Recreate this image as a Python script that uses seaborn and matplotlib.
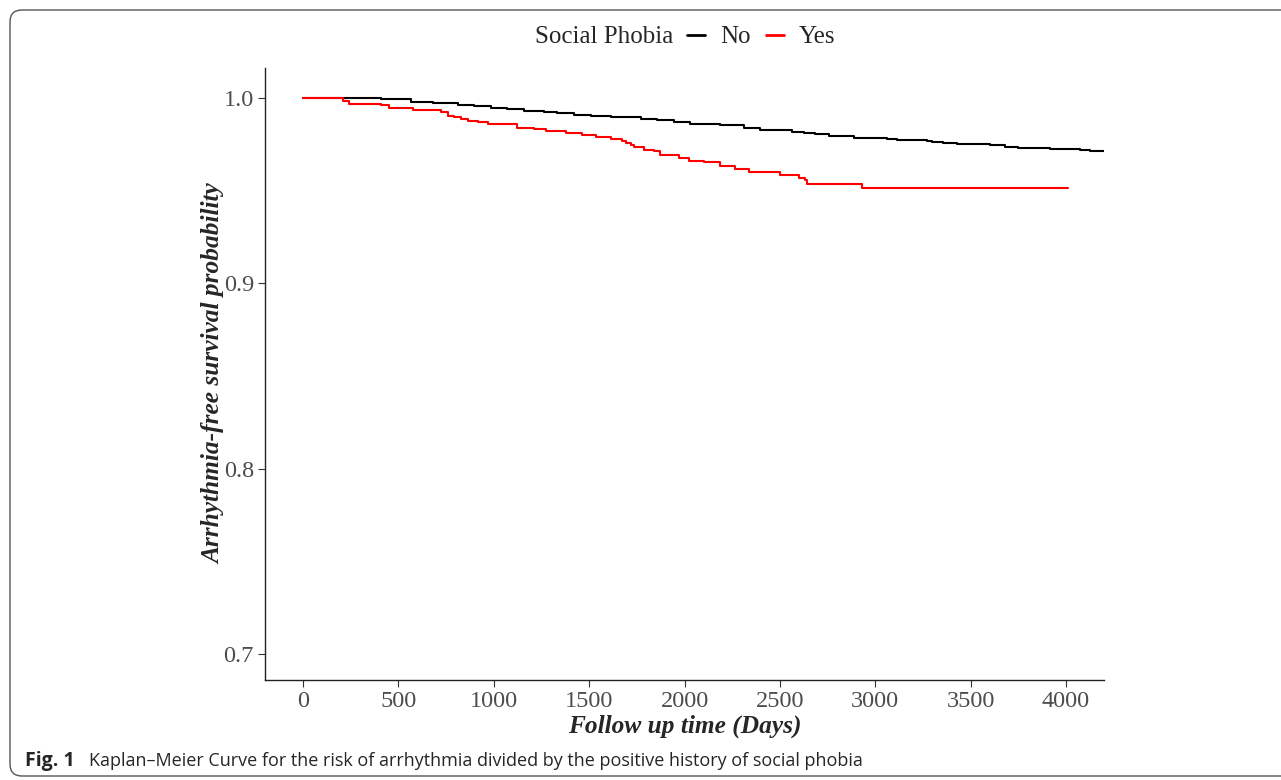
import matplotlib.pyplot as plt
import pandas as pd
import seaborn as sns
from matplotlib.patches import FancyBboxPatch

# Kaplan-Meier step points (time in days, survival)
NO_TIME = [0, 408, 565, 679, 810, 897, 984, 1071, 1159, 1263, 1333, 1421, 1508,
           1613, 1770, 1857, 1944, 2031, 2188, 2311, 2398, 2564, 2625, 2686,
           2756, 2887, 3062, 3114, 3271, 3297, 3358, 3428, 3602, 3681, 3751,
           3916, 4073, 4126, 4300]
NO_SURV = [1.0, 0.9993, 0.9978, 0.9971, 0.9962, 0.9954, 0.9946, 0.9939, 0.9930,
           0.9921, 0.9916, 0.9908, 0.9903, 0.9894, 0.9887, 0.9880, 0.9867,
           0.9858, 0.9851, 0.9838, 0.9827, 0.9817, 0.9810, 0.9803, 0.9795,
           0.9784, 0.9777, 0.9772, 0.9767, 0.9761, 0.9756, 0.9752, 0.9745,
           0.9736, 0.9729, 0.9722, 0.9716, 0.9713, 0.9713]

YES_TIME = [0, 208, 243, 408, 452, 574, 723, 758, 792, 827, 862, 915, 967, 1124,
            1211, 1272, 1377, 1464, 1534, 1613, 1674, 1691, 1717, 1735, 1787,
            1839, 1874, 1970, 2022, 2101, 2188, 2267, 2337, 2503, 2599, 2634,
            2643, 2931, 4012]
YES_SURV = [1.0, 0.9984, 0.9968, 0.9960, 0.9944, 0.9934, 0.9923, 0.9903, 0.9894,
            0.9885, 0.9872, 0.9867, 0.9856, 0.9838, 0.9829, 0.9819, 0.9810,
            0.9799, 0.9788, 0.9775, 0.9765, 0.9757, 0.9743, 0.9732, 0.9720,
            0.9711, 0.9693, 0.9673, 0.9660, 0.9651, 0.9633, 0.9617, 0.9601,
            0.9583, 0.9569, 0.9556, 0.9536, 0.9515, 0.9515]

GROUPS = ["No", "Yes"]
X_TICKS = [0, 500, 1000, 1500, 2000, 2500, 3000, 3500, 4000]
Y_TICKS = [0.7, 0.8, 0.9, 1.0]

SERIF = "Liberation Serif"
TICK_GREY = "#4D4D4D"

sns.set_style("white")
plt.rcParams["font.family"] = [SERIF, "DejaVu Serif"]

df = pd.concat([
    pd.DataFrame({"time": NO_TIME, "surv": NO_SURV, "group": GROUPS[0]}),
    pd.DataFrame({"time": YES_TIME, "surv": YES_SURV, "group": GROUPS[1]}),
], ignore_index=True)

fig = plt.figure(figsize=(12.81, 7.80), dpi=100)
ax = fig.add_axes([265 / 1281, 1 - 680 / 780, (1104 - 265) / 1281, (680 - 68) / 780])

sns.lineplot(data=df, x="time", y="surv", hue="group", hue_order=GROUPS,
             palette={"No": "black", "Yes": "red"}, drawstyle="steps-post",
             estimator=None, linewidth=1.5, ax=ax)

ax.set_xlim(-200, 4200)
ax.set_ylim(0.686, 1.016)
ax.set_xticks(X_TICKS)
ax.set_yticks(Y_TICKS)
ax.set_xticklabels([str(t) for t in X_TICKS])
ax.set_yticklabels([f"{t:.1f}" for t in Y_TICKS])
ax.tick_params(axis="both", bottom=True, left=True, labelsize=17.5,
               labelcolor=TICK_GREY, color="#333333", length=5, width=0.8,
               direction="out", pad=3)
for side in ["top", "right"]:
    ax.spines[side].set_visible(False)
for side in ["left", "bottom"]:
    ax.spines[side].set_color("#222222")
    ax.spines[side].set_linewidth(1.0)

ax.set_xlabel("Follow up time (Days)", fontsize=18.3, fontweight="bold",
              fontstyle="italic", labelpad=2)
ax.set_ylabel("Arrhythmia-free survival probability", fontsize=18.3,
              fontweight="bold", fontstyle="italic", labelpad=-1)

# ggplot-style legend on top: title inline with the keys
handles, labels = ax.get_legend_handles_labels()
ax.get_legend().remove()
fig.text(673 / 1281, 1 - 37 / 780, "Social Phobia", ha="right", va="center",
         fontsize=18)
leg = fig.legend(handles, labels, loc="center left",
                 bbox_to_anchor=(687 / 1281, 1 - 37 / 780), ncol=2, frameon=False,
                 fontsize=18, handlelength=0.72, handletextpad=0.6,
                 columnspacing=0.6, borderaxespad=0, borderpad=0)
for line in leg.get_lines():
    line.set_linewidth(2.0)

# journal caption and rounded frame
fig.text(25 / 1281, 1 - 761 / 780, "Fig. 1", ha="left", va="center",
         fontsize=14, fontweight="bold", family="Open Sans")
fig.text(89 / 1281, 1 - 761 / 780,
         "Kaplan\u2013Meier Curve for the risk of arrhythmia divided by the "
         "positive history of social phobia",
         ha="left", va="center", fontsize=13, family="Open Sans")
frame = FancyBboxPatch((10, 4), 1400, 766, boxstyle="round,pad=0,rounding_size=12",
                       transform=None, facecolor="none", edgecolor="#555555",
                       linewidth=1.0, clip_on=False)
fig.patches.append(frame)

fig.savefig("out.png", dpi=100)
